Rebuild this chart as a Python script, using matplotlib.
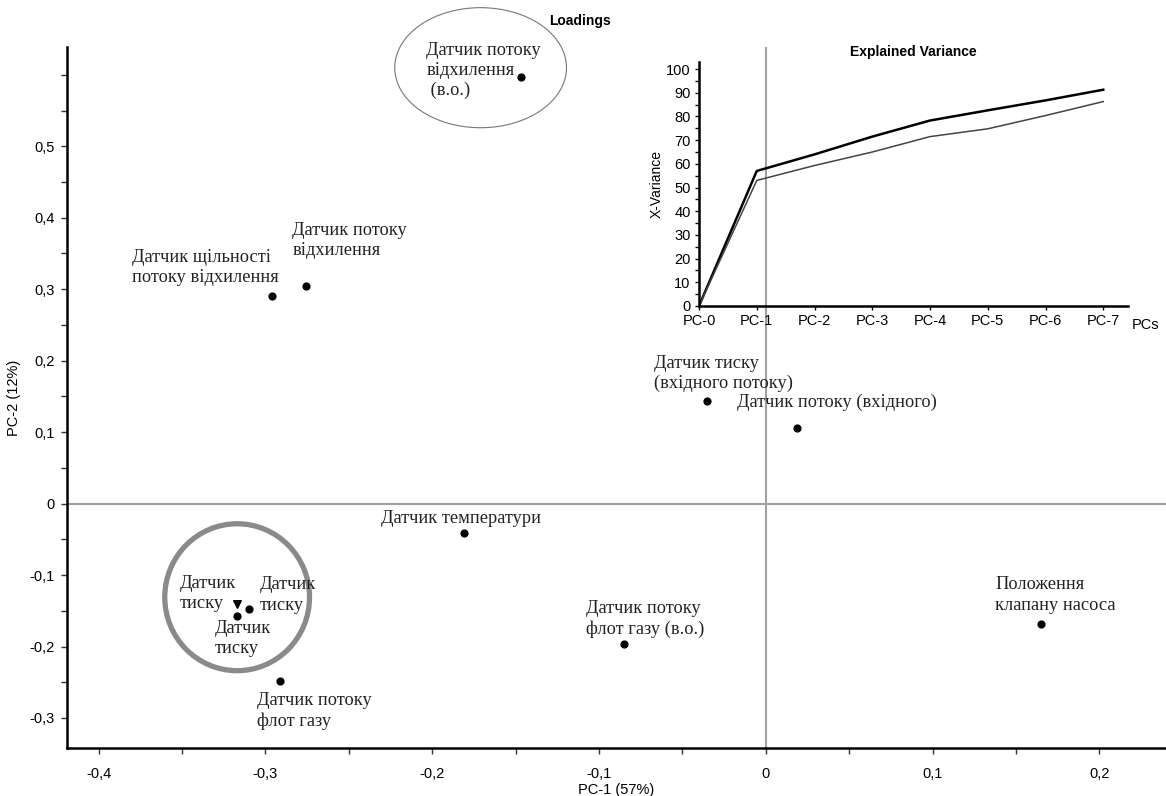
import matplotlib
matplotlib.use("Agg")
import matplotlib.pyplot as plt
from matplotlib.patches import Ellipse
from matplotlib.ticker import MultipleLocator, FuncFormatter

# loadings data (PC-1, PC-2)
names = ["Датчик потоку\nвідхилення\n (в.о.)",
         "Датчик щільності\nпотоку відхилення",
         "Датчик потоку\nвідхилення",
         "Датчик тиску\n(вхідного потоку)",
         "Датчик потоку (вхідного)",
         "Датчик температури",
         "Датчик потоку\nфлот газу (в.о.)",
         "Положення\nклапану насоса",
         "Датчик потоку\nфлот газу",
         "Датчик\nтиску",
         "Датчик\nтиску",
         "Датчик\nтиску"]
pc1 = [-0.147, -0.296, -0.276, -0.035, 0.019, -0.181, -0.085, 0.165, -0.291, -0.317, -0.310, -0.317]
pc2 = [0.597, 0.291, 0.305, 0.143, 0.106, -0.041, -0.197, -0.169, -0.248, -0.141, -0.147, -0.157]
markers = ["o"] * 9 + ["v", "o", "o"]

# label anchor points (left, vertical center)
label_pos = [(-0.2036, 0.606), (-0.380, 0.330), (-0.284, 0.368), (-0.067, 0.182),
             (-0.017, 0.141), (-0.2305, -0.021), (-0.108, -0.162), (0.1377, -0.128),
             (-0.305, -0.290), (-0.3515, -0.126), (-0.3036, -0.128), (-0.3305, -0.189)]

# explained variance inset
pcs = ["PC-0", "PC-1", "PC-2", "PC-3", "PC-4", "PC-5", "PC-6", "PC-7"]
var_cal = [0, 57, 64, 71.5, 78.3, 82.6, 86.8, 91.3]
var_val = [0, 53, 59.3, 65, 71.5, 74.8, 80.4, 86.3]

fig = plt.figure(figsize=(11.66, 7.96), dpi=100)
ax = fig.add_axes([0.0575, 0.0603, 0.9425, 0.8807])

ax.axhline(0, color="#a0a0a0", lw=1.5, zorder=1)
ax.axvline(0, color="#a0a0a0", lw=1.5, zorder=1)

for x, y, m in zip(pc1, pc2, markers):
    ax.scatter(x, y, s=24 if m == "o" else 30, marker=m, color="black", zorder=3)

serif = ["Liberation Serif", "DejaVu Serif"]
for n, (lx, ly) in zip(names, label_pos):
    ax.text(lx, ly, n, ha="left", va="center", family=serif, fontsize=13.2,
            color="#222222", linespacing=1.25, zorder=4)

ax.add_patch(Ellipse((-0.317, -0.131), 0.0868, 0.2056, fill=False,
                     edgecolor="#8a8a8a", lw=3.8, zorder=2))
ax.add_patch(Ellipse((-0.171, 0.610), 0.103, 0.168, fill=False,
                     edgecolor="#777777", lw=0.8, clip_on=False, zorder=2))

ax.set_xlim(-0.419, 0.24)
ax.set_ylim(-0.342, 0.639)
ax.spines["top"].set_visible(False)
ax.spines["right"].set_visible(False)
ax.spines["left"].set_linewidth(1.8)
ax.spines["bottom"].set_linewidth(1.8)

ax.xaxis.set_major_locator(MultipleLocator(0.1))
ax.xaxis.set_minor_locator(MultipleLocator(0.05))
ax.yaxis.set_major_locator(MultipleLocator(0.1))
ax.yaxis.set_minor_locator(MultipleLocator(0.05))
fmt = FuncFormatter(lambda v, p: "0" if abs(v) < 1e-9 else ("%.1f" % v).replace(".", ","))
ax.xaxis.set_major_formatter(fmt)
ax.yaxis.set_major_formatter(fmt)
ax.set_yticks([-0.3, -0.2, -0.1, 0, 0.1, 0.2, 0.3, 0.4, 0.5])
ax.tick_params(which="both", length=4, width=1, color="#333333")
ax.tick_params(axis="y", labelsize=10.5, pad=5)
ax.tick_params(axis="x", labelsize=10.5, pad=10)
sans = ["Liberation Sans", "DejaVu Sans"]
for t in ax.get_xticklabels() + ax.get_yticklabels():
    t.set_family(sans)
ax.set_xlabel("PC-1 (57%)", family=sans, fontsize=10.5, labelpad=1)
ax.set_ylabel("PC-2 (12%)", family=sans, fontsize=10.5, labelpad=6)

fig.text(0.497, 0.973, "Loadings", ha="center", va="center", fontsize=10,
         fontweight="bold", family=sans)

# inset
ins = fig.add_axes([0.5995, 0.6156, 0.368, 0.3065])
ins.patch.set_alpha(0)
xs = list(range(len(pcs)))
ins.plot(xs, var_cal, color="black", lw=1.8)
ins.plot(xs, var_val, color="#444444", lw=1.1)
ins.set_xlim(0, 7.43)
ins.set_ylim(0, 103)
ins.set_xticks(xs)
ins.set_xticklabels(pcs)
ins.yaxis.set_major_locator(MultipleLocator(10))
ins.yaxis.set_minor_locator(MultipleLocator(5))
ins.spines["top"].set_visible(False)
ins.spines["right"].set_visible(False)
ins.spines["left"].set_linewidth(1.8)
ins.spines["bottom"].set_linewidth(1.8)
ins.tick_params(which="both", length=3, width=1)
ins.tick_params(labelsize=10.5, pad=3)
for t in ins.get_xticklabels() + ins.get_yticklabels():
    t.set_family(sans)
ins.set_ylabel("X-Variance", fontsize=10, family=sans, labelpad=2)
ins.set_title("Explained Variance", fontsize=10, fontweight="bold",
              family=sans, pad=4)
ins.text(7.5, -5, "PCs", ha="left", va="top", fontsize=10.5,
         family=sans, clip_on=False)

fig.savefig("out.png", dpi=100)
